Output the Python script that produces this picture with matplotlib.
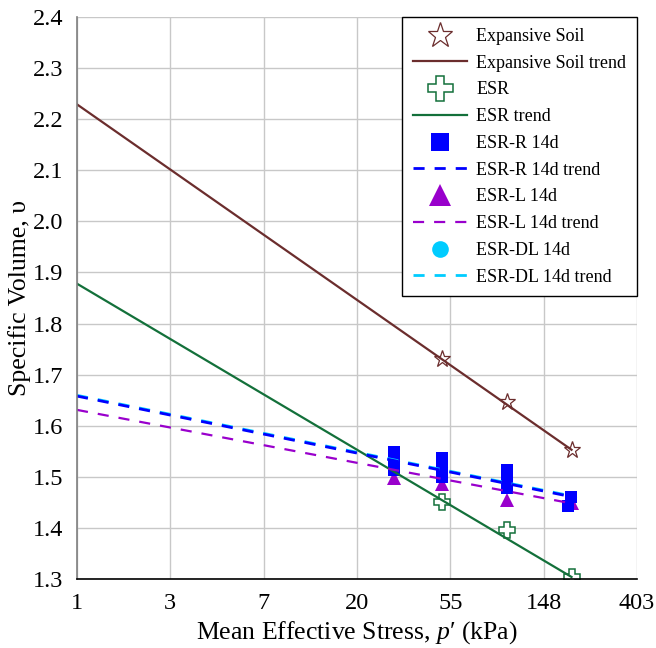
import numpy as np
import matplotlib
matplotlib.use("Agg")
import matplotlib.pyplot as plt

plt.rcParams['font.family'] = ['Liberation Serif', 'DejaVu Serif']
plt.rcParams['mathtext.fontset'] = 'custom'
plt.rcParams['mathtext.rm'] = 'Liberation Serif'
plt.rcParams['mathtext.it'] = 'Liberation Serif:italic'
plt.rcParams['lines.scale_dashes'] = False

# ---------------- data ----------------
xtick_labels = ['1', '3', '7', '20', '55', '148', '403']
ytick_values = [1.3, 1.4, 1.5, 1.6, 1.7, 1.8, 1.9, 2.0, 2.1, 2.2, 2.3, 2.4]

es_p = [50, 100, 200]
es_v = [1.731, 1.647, 1.553]
es_trend_p = [1, 200]
es_trend_v = [2.229, 1.553]

esr_p = [50, 100, 200]
esr_v = [1.451, 1.395, 1.304]
esr_trend_p = [1, 200]
esr_trend_v = [1.878, 1.304]

r_p = [30, 30, 30, 50, 50, 50, 100, 100, 100, 199, 192]
r_v = [1.548, 1.531, 1.514, 1.537, 1.519, 1.500, 1.514, 1.496, 1.478, 1.460, 1.443]
r_trend_p = [1, 200]
r_trend_v = [1.658, 1.461]

l_p = [30, 50, 100, 202]
l_v = [1.498, 1.485, 1.454, 1.449]
l_trend_p = [1, 200]
l_trend_v = [1.631, 1.448]

dl_p = [30, 50, 100, 199]
dl_v = [1.531, 1.519, 1.496, 1.460]
dl_trend_p = [1, 200]
dl_trend_v = [1.6595, 1.4625]

# ---------------- styles ----------------
brown = '#6B2D2D'
green = '#13703A'
blue = '#0000FF'
purple = '#9900CC'
cyan = '#00CCFF'
dash = (8.0, 7.2)

fig = plt.figure(figsize=(6.56, 6.48), dpi=100)
ax = fig.add_axes([77/656, 1-579/648, 560/656, 562/648])

ax.set_xscale('log', base=np.e)
ax.set_xlim(1, np.e**6)
ax.set_ylim(1.3, 2.4)

# markers (under lines)
h_es, = ax.plot(es_p, es_v, ls='none', marker='*', ms=12.5, mfc='white',
                mec=brown, mew=0.9, zorder=3, label='Expansive Soil')
h_esr, = ax.plot(esr_p, esr_v, ls='none', marker='P', ms=12, mfc='white',
                 mec=green, mew=1.1, zorder=3, label='ESR')
h_l, = ax.plot(l_p, l_v, ls='none', marker='^', ms=10.5, mfc=purple,
               mec=purple, mew=0, zorder=3, label='ESR-L 14d')
h_dl, = ax.plot(dl_p, dl_v, ls='none', marker='o', ms=8, mfc=cyan,
                mec=cyan, mew=0, zorder=3.1, label='ESR-DL 14d')
h_r, = ax.plot(r_p, r_v, ls='none', marker='s', ms=8.8, mfc=blue,
               mec=blue, mew=0, zorder=3.2, label='ESR-R 14d')

# trend lines (over markers)
h_es_t, = ax.plot(es_trend_p, es_trend_v, color=brown, lw=1.6, zorder=4,
                  label='Expansive Soil trend')
h_esr_t, = ax.plot(esr_trend_p, esr_trend_v, color=green, lw=1.6, zorder=4,
                   label='ESR trend')
h_dl_t, = ax.plot(dl_trend_p, dl_trend_v, color=cyan, lw=2.0, zorder=4,
                  dashes=dash, label='ESR-DL 14d trend')
h_l_t, = ax.plot(l_trend_p, l_trend_v, color=purple, lw=1.6, zorder=4.1,
                 dashes=dash, label='ESR-L 14d trend')
h_r_t, = ax.plot(r_trend_p, r_trend_v, color=blue, lw=2.0, zorder=4.2,
                 dashes=dash, label='ESR-R 14d trend')

# axes styling
ax.set_xticks([np.e**k for k in range(len(xtick_labels))])
ax.set_xticklabels(xtick_labels)
ax.xaxis.set_minor_locator(matplotlib.ticker.NullLocator())
ax.set_yticks(ytick_values)
ax.set_yticklabels([f'{v:.1f}' for v in ytick_values])
ax.tick_params(axis='both', length=0, labelsize=17.5, colors='black')
ax.tick_params(axis='x', pad=10)
ax.tick_params(axis='y', pad=10)
ax.grid(True, color='#C8C8C8', lw=1.0, zorder=0)
ax.set_axisbelow(True)
for s in ['top', 'right']:
    ax.spines[s].set_visible(False)
ax.spines['left'].set_color('#7F7F7F')
ax.spines['left'].set_linewidth(1.2)
ax.spines['bottom'].set_color('black')
ax.spines['bottom'].set_linewidth(1.2)
ax.spines['left'].set_zorder(5)
ax.spines['bottom'].set_zorder(5)

ax.set_xlabel("Mean Effective Stress, $p$′ (kPa)", fontsize=18.5, labelpad=4)
ax.set_ylabel('Specific Volume, υ', fontsize=18.5, labelpad=1)

handles = [h_es, h_es_t, h_esr, h_esr_t, h_r, h_r_t, h_l, h_l_t, h_dl, h_dl_t]
leg = ax.legend(handles=handles, loc='upper right', bbox_to_anchor=(1.0, 1.0),
                borderaxespad=0, fontsize=13, frameon=True, fancybox=False,
                edgecolor='black', framealpha=1, markerscale=1.5,
                handlelength=3.0, handletextpad=0.5, labelspacing=0.54,
                borderpad=0.6)
leg.get_frame().set_linewidth(1.0)
leg.set_zorder(10)

fig.savefig('out.png', dpi=100)
